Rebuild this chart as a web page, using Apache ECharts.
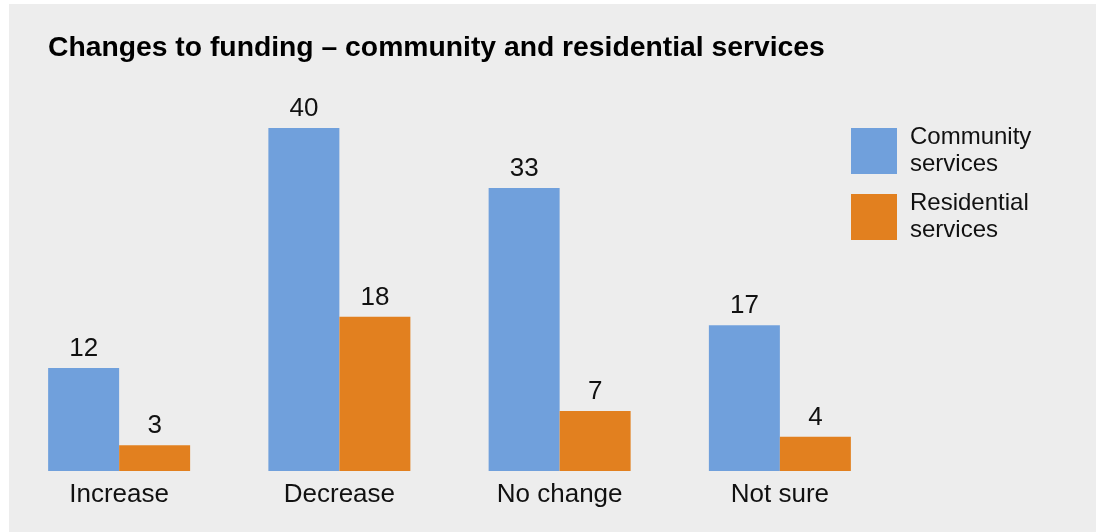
<!DOCTYPE html>
<html>
<head>
<meta charset="utf-8">
<script src="https://cdn.jsdelivr.net/npm/echarts@6/dist/echarts.min.js"></script>
<style>
html,body{margin:0;padding:0;background:#ffffff;}
#chart{width:1096px;height:532px;}
</style>
</head>
<body>
<div id="chart"></div>
<script>
const titleText = 'Changes to funding – community and residential services';
const categories = ['Increase', 'Decrease', 'No change', 'Not sure'];
const seriesNames = ['Community\nservices', 'Residential\nservices'];
const community = [12, 40, 33, 17];
const residential = [3, 18, 7, 4];

const FONT = '"Liberation Sans", Arial, Helvetica, sans-serif';
const chart = echarts.init(document.getElementById('chart'));
chart.setOption({
  animation: false,
  textStyle: {fontFamily: FONT},
  graphic: [{
    type: 'rect', z: -10, silent: true,
    shape: {x: 9, y: 4, width: 1087, height: 528},
    style: {fill: '#ededed'}
  }],
  title: {
    text: titleText,
    left: 43, top: 29,
    textStyle: {fontFamily: FONT, fontSize: 28.3, fontWeight: 'bold', color: '#000'}
  },
  legend: {
    orient: 'vertical',
    left: 846, top: 119,
    itemWidth: 46, itemHeight: 46, itemGap: 12,
    icon: 'rect',
    formatter: function (name) {
      return name.split('\n').map(function (s) { return '{a|' + s + '}'; }).join('\n');
    },
    textStyle: {
      fontFamily: FONT, fontSize: 24, color: '#111', lineHeight: 27,
      rich: {a: {fontFamily: FONT, fontSize: 24, color: '#111', lineHeight: 27, padding: [0, 0, 0, 8]}}
    },
    data: seriesNames
  },
  grid: {left: 9, right: 206, top: 128, bottom: 61, containLabel: false},
  xAxis: {
    type: 'category',
    data: categories,
    axisLine: {show: false},
    axisTick: {show: false},
    axisLabel: {fontFamily: FONT, fontSize: 26, color: '#111', margin: 11}
  },
  yAxis: {
    type: 'value', min: 0, max: 40,
    show: false,
    splitLine: {show: false}
  },
  series: [
    {
      name: seriesNames[0], type: 'bar', data: community,
      barWidth: 71, barGap: '0%',
      itemStyle: {color: '#70a0dc'},
      label: {show: true, position: 'top', distance: 6, fontFamily: FONT, fontSize: 26, color: '#111'}
    },
    {
      name: seriesNames[1], type: 'bar', data: residential,
      barWidth: 71, barGap: '0%',
      itemStyle: {color: '#e2801f'},
      label: {show: true, position: 'top', distance: 6, fontFamily: FONT, fontSize: 26, color: '#111'}
    }
  ]
});
</script>
</body>
</html>
